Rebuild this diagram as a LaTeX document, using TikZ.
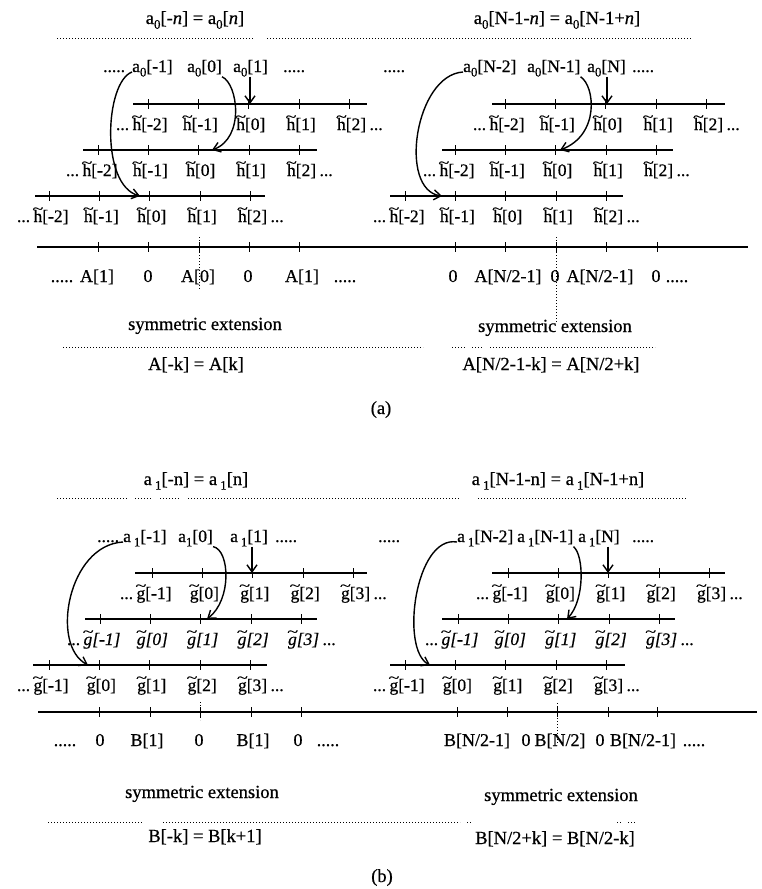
\documentclass[tikz,border=0pt]{standalone}
\usepackage{fontspec}
\usepackage{graphicx}
\setmainfont{Liberation Serif}[FakeBold=0.6]
\usetikzlibrary{arrows.meta}
\newcommand\tlacc[1]{{\ooalign{#1\cr\hidewidth\raisebox{0.5em}{\scalebox{1.15}[0.8]{\char"7E}}\hidewidth\cr}}}
\newcommand\tlh{\tlacc{h}}
\newcommand\tlg{\tlacc{g}}
\newcommand\sbs[1]{\raisebox{-0.55ex}{\fontsize{13}{13}\selectfont #1}}
\newcommand\fbig{\fontsize{18.5}{20}\selectfont}
\newcommand\fmid{\fontsize{18}{20}\selectfont}
\newcommand\fsml{\fontsize{17.5}{20}\selectfont}
% one filter row: #1 id, #2 y, #3 x from, #4 x to, #5 first tick, #6 glyph, #7 first index, #8 extra node options
\newcommand\seqrow[8]{%
  \draw[rowln] (#3,#2) -- (#4,#2);
  \foreach \i in {0,...,4} {
    \pgfmathsetmacro\xx{#5+50.4*\i}
    \pgfmathtruncatemacro\kk{#7+\i}
    \draw[tk] (\xx,#2-5) -- (\xx,#2+5);
    \node[tsm,#8] (#1-\i) at (\xx+2,#2+26) {#6[\kk]};
  }
  \node[tsm,anchor=base east] (#1-l) at ([xshift=-3pt]#1-0.base west) {...};
  \node[tsm,anchor=base west] (#1-r) at ([xshift=3pt]#1-4.base east) {...};
}
\begin{document}
\begin{tikzpicture}[x=1pt,y=-1pt,
  tbig/.style={anchor=base, inner sep=0pt, font=\fbig},
  tax/.style={anchor=base, inner sep=0pt, font=\fmid},
  tsm/.style={anchor=base, inner sep=0pt, font=\fsml},
  tarow/.style={anchor=base west, inner sep=0pt, font=\fsml},
  rowln/.style={line width=2.4pt},
  tk/.style={line width=1pt},
  dotln/.style={line width=1pt, dash pattern=on 1pt off 2pt},
  vdot/.style={line width=0.8pt, dash pattern=on 1pt off 2pt},
  conn/.style={line width=1.4pt, -{Straight Barb[length=7pt,width=10pt]}},
]
\useasboundingbox (0,0) rectangle (761,889);

%================ (a) ================
\node[tbig] (ta1) at (195,24) {a\sbs{0}[-\textit{n}] = a\sbs{0}[\textit{n}]};
\node[tbig] (ta2) at (557,24) {a\sbs{0}[N-1-\textit{n}] = a\sbs{0}[N-1+\textit{n}]};
\draw[dotln] (57,38) -- (253,38);
\draw[dotln] (267,38) -- (692,38);

\node[tarow] (pa1) at (103,72) {.....};
\node[tarow] (pa2) at (132,72) {a\sbs{0}[-1]};
\node[tarow] (pa3) at (187,72) {a\sbs{0}[0]};
\node[tarow] (pa4) at (233,72) {a\sbs{0}[1]};
\node[tarow] (pa5) at (283,72) {.....};
\node[tarow] (qa1) at (383,72) {.....};
\node[tarow] (qa2) at (463,72) {a\sbs{0}[N-2]};
\node[tarow] (qa3) at (527,72) {a\sbs{0}[N-1]};
\node[tarow] (qa4) at (587,72) {a\sbs{0}[N]};
\node[tarow] (qa5) at (632,72) {.....};

\seqrow{hL1}{104}{133}{367}{148}{\tlh}{-2}{}
\seqrow{hL2}{150}{83}{317}{98}{\tlh}{-2}{}
\seqrow{hL3}{196}{35}{265}{49}{\tlh}{-2}{}
\seqrow{hR1}{104}{492}{725}{505}{\tlh}{-2}{}
\seqrow{hR2}{150}{442}{673}{455}{\tlh}{-2}{}
\seqrow{hR3}{196}{390}{623}{405}{\tlh}{-2}{}

\draw[rowln] (37,247) -- (748,247);
\foreach \x in {98,148,199,249,299,455,505,556,606,657} \draw[tk] (\x,242) -- (\x,252);
\node[tax] (xa1) at (62,282) {.....};
\node[tax] (xa2) at (97,282) {A[1]};
\node[tax] (xa3) at (148,282) {0};
\node[tax] (xa4) at (198,282) {A[0]};
\node[tax] (xa5) at (248,282) {0};
\node[tax] (xa6) at (302,282) {A[1]};
\node[tax] (xa7) at (345,282) {.....};
\node[tax] (xa8) at (453,282) {0};
\node[tax] (xa9) at (508,282) {A[N/2-1]};
\node[tax] (xa10) at (555,282) {0};
\node[tax] (xa11) at (600,282) {A[N/2-1]};
\node[tax] (xa12) at (656,282) {0};
\node[tax] (xa13) at (677,282) {.....};
\draw[vdot] (199,237) -- (199,290);
\draw[vdot] (556,237) -- (556,322);

\node[tbig] (sa1) at (205,330) {symmetric extension};
\node[tbig] (sa2) at (555,332) {symmetric extension};
\draw[dotln] (63,347) -- (423,347);
\draw[dotln] (452,347) -- (465,347);
\draw[dotln] (472,347) -- (482,347);
\draw[dotln] (490,347) -- (655,347);
\node[tbig] (fa1) at (196,370) {A[-k] = A[k]};
\node[tbig] (fa2) at (551,370) {A[N/2-1-k] = A[N/2+k]};
\node[tbig] (capa) at (381,414) {(a)};

\coordinate (ea1) at (140,196);
\coordinate (ea2) at (212,150);
\coordinate (ea3) at (250,104);
\coordinate (eb1) at (442,196);
\coordinate (eb2) at (560,150);
\coordinate (eb3) at (607,104);
\draw[conn] (pa2.base west) .. controls (105,82) and (100,185) .. (ea1);
\draw[conn] (pa3.south east) .. controls (238,84) and (245,138) .. (ea2);
\draw[conn] (pa4.south -| ea3) -- (ea3);
\draw[conn] (qa2.base west) .. controls (415,75) and (398,190) .. (eb1);
\draw[conn] (qa3.south east) .. controls (595,86) and (600,135) .. (eb2);
\draw[conn] (qa4.south -| eb3) -- (eb3);

%================ (b) ================
\node[tbig] (tb1) at (196,485) {a\,\sbs{1}[-n] = a\,\sbs{1}[n]};
\node[tbig] (tb2) at (558,485) {a\,\sbs{1}[N-1-n] = a\,\sbs{1}[N-1+n]};
\draw[dotln] (57,498) -- (127,498);
\draw[dotln] (135,498) -- (152,498);
\draw[dotln] (160,498) -- (180,498);
\draw[dotln] (188,498) -- (460,498);
\draw[dotln] (478,498) -- (687,498);

\node[tarow] (pb1) at (97,542) {.....};
\node[tarow] (pb2) at (123,542) {a\,\sbs{1}[-1]};
\node[tarow] (pb3) at (178,542) {a\sbs{1}[0]};
\node[tarow] (pb4) at (230,542) {a\,\sbs{1}[1]};
\node[tarow] (pb5) at (275,542) {.....};
\node[tarow] (qb1) at (378,542) {.....};
\node[tarow] (qb2) at (457,542) {a\,\sbs{1}[N-2]};
\node[tarow] (qb3) at (517,542) {a\,\sbs{1}[N-1]};
\node[tarow] (qb4) at (578,542) {a\,\sbs{1}[N]};
\node[tarow] (qb5) at (632,542) {.....};

\seqrow{gL1}{573}{135}{367}{152}{\tlg}{-1}{}
\seqrow{gL2}{619}{85}{317}{100}{\tlg}{-1}{font=\fsml\itshape}
\seqrow{gL3}{665}{33}{267}{49}{\tlg}{-1}{}
\seqrow{gR1}{573}{492}{725}{508}{\tlg}{-1}{}
\seqrow{gR2}{619}{442}{675}{458}{\tlg}{-1}{font=\fsml\itshape}
\seqrow{gR3}{665}{390}{625}{405}{\tlg}{-1}{}

\draw[rowln] (38,712) -- (757,712);
\foreach \x in {99,150,200,251,301,457,507,557,608,657} \draw[tk] (\x,707) -- (\x,717);
\node[tax] (xb1) at (65,746) {.....};
\node[tax] (xb2) at (100,746) {0};
\node[tax] (xb3) at (147,746) {B[1]};
\node[tax] (xb4) at (199,746) {0};
\node[tax] (xb5) at (253,746) {B[1]};
\node[tax] (xb6) at (298,746) {0};
\node[tax] (xb7) at (328,746) {.....};
\node[tax] (xb8) at (477,746) {B[N/2-1]};
\node[tax] (xb9) at (526,746) {0};
\node[tax] (xb10) at (560,746) {B[N/2]};
\node[tax] (xb11) at (600,746) {0};
\node[tax] (xb12) at (643,746) {B[N/2-1]};
\node[tax] (xb13) at (694,746) {.....};
\draw[vdot] (200,702) -- (200,720);
\draw[vdot] (557,703) -- (557,745);

\node[tbig] (sb1) at (202,798) {symmetric extension};
\node[tbig] (sb2) at (561,801) {symmetric extension};
\draw[dotln] (48,822) -- (143,822);
\draw[dotln] (163,822) -- (460,822);
\draw[dotln] (467,822) -- (471,822);
\draw[dotln] (617,822) -- (621,822);
\draw[dotln] (628,822) -- (637,822);
\node[tbig] (fb1) at (205,842) {B[-k] = B[k+1]};
\node[tbig] (fb2) at (555,844) {B[N/2+k] = B[N/2-k]};
\node[tbig] (capb) at (382,882) {(b)};

\coordinate (ga1) at (88,665);
\coordinate (ga2) at (207,619);
\coordinate (ga3) at (252,573);
\coordinate (gb1) at (430,665);
\coordinate (gb2) at (567,619);
\coordinate (gb3) at (608,573);
\draw[conn] (pb2.base west) .. controls (68,545) and (50,645) .. (ga1);
\draw[conn] (pb3.south east) .. controls (230,550) and (232,600) .. (ga2);
\draw[conn] (pb4.south -| ga3) -- (ga3);
\draw[conn] (qb2.base west) .. controls (415,535) and (400,650) .. (gb1);
\draw[conn] (qb3.south east) .. controls (584,555) and (585,600) .. (gb2);
\draw[conn] (qb4.south -| gb3) -- (gb3);
\end{tikzpicture}
\end{document}
